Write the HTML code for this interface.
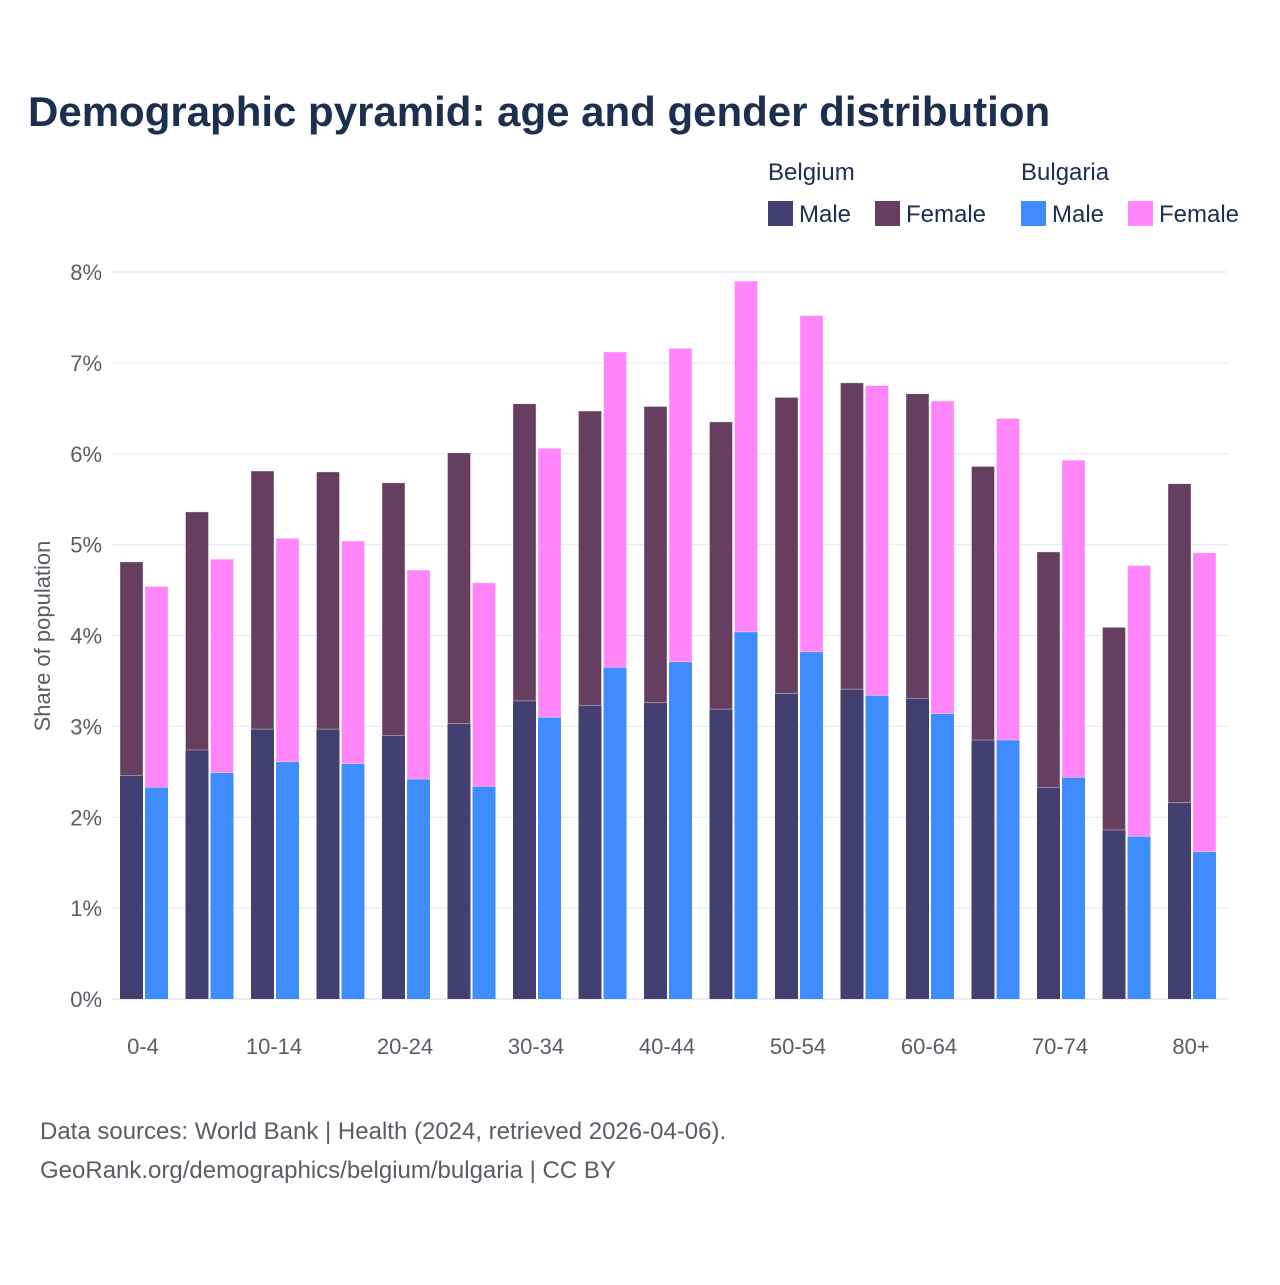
<!DOCTYPE html>
<html><head><meta charset="utf-8"><style>
body{margin:0;background:#fff;font-family:"Liberation Sans",sans-serif;}
</style></head><body>
<svg id="c" width="1280" height="1280" xmlns="http://www.w3.org/2000/svg" style="font-family:'Liberation Sans',sans-serif">
<text x="28" y="126" font-size="42" font-weight="bold" fill="#1b2f4f">Demographic pyramid: age and gender distribution</text>
<g font-size="24" fill="#1b2f4f">
<text x="768" y="180">Belgium</text>
<text x="1021" y="180">Bulgaria</text>
<rect x="768" y="201" width="25" height="25" fill="#433f70"/>
<text x="799" y="222">Male</text>
<rect x="875" y="201" width="25" height="25" fill="#663f60"/>
<text x="906" y="222">Female</text>
<rect x="1021" y="201" width="25" height="25" fill="#3f8cff"/>
<text x="1052" y="222">Male</text>
<rect x="1128" y="201" width="25" height="25" fill="#ff85f9"/>
<text x="1159" y="222">Female</text>
</g>
<g id="grid"></g><g id="bars"></g><g id="xt"></g>
<text transform="translate(50,636) rotate(-90)" text-anchor="middle" font-size="22" fill="#5c5c66">Share of population</text>
<text x="40" y="1139" font-size="24" fill="#5c5c66">Data sources: World Bank | Health (2024, retrieved 2026-04-06).</text>
<text x="40" y="1178" font-size="24" fill="#5c5c66">GeoRank.org/demographics/belgium/bulgaria | CC BY</text>
</svg>
<script>
const categories=["0-4","5-9","10-14","15-19","20-24","25-29","30-34","35-39","40-44","45-49","50-54","55-59","60-64","65-69","70-74","75-79","80+"];
const tickLabels=["0-4","","10-14","","20-24","","30-34","","40-44","","50-54","","60-64","","70-74","","80+"];
const belMale=[2.46,2.74,2.97,2.97,2.90,3.03,3.28,3.23,3.26,3.19,3.36,3.41,3.31,2.85,2.33,1.86,2.16];
const belFemale=[2.35,2.62,2.84,2.83,2.78,2.98,3.27,3.24,3.26,3.16,3.26,3.37,3.35,3.01,2.59,2.23,3.51];
const bulMale=[2.33,2.49,2.61,2.59,2.42,2.34,3.10,3.65,3.71,4.04,3.82,3.34,3.14,2.85,2.44,1.79,1.62];
const bulFemale=[2.21,2.35,2.46,2.45,2.30,2.24,2.96,3.47,3.45,3.86,3.70,3.41,3.44,3.54,3.49,2.98,3.29];
const yTicks=[0,1,2,3,4,5,6,7,8];
const NS="http://www.w3.org/2000/svg";
const x0=112,x1=1228,yb=999,yt=272,ymax=8;
const y=v=>yb-(v/ymax)*(yb-yt);
const step=65.5;
const gx=i=>112+i*step;
function mk(t,a,p){const e=document.createElementNS(NS,t);for(const k in a)e.setAttribute(k,a[k]);p.appendChild(e);return e;}
const grid=document.getElementById('grid');
yTicks.forEach(t=>{
 const l=mk('line',{x1:x0,x2:x1,y1:y(t),y2:y(t),stroke:t===0?'#dcdce4':'#e6e6ef','stroke-width':1},grid);
 
 
 const tx=mk('text',{x:102,y:y(t)+8,'text-anchor':'end','font-size':22,fill:'#5c5c66'},grid);
 tx.textContent=t+'%';
 
 
});
const bars=document.getElementById('bars');
const bw=23;
function stack(xp,m,f,cm,cf,name){
 const r1=mk('rect',{x:xp,y:y(m),width:bw,height:yb-y(m),fill:cm},bars);
 
 
 const r2=mk('rect',{x:xp,y:y(m+f),width:bw,height:y(m)-y(m+f),fill:cf,stroke:'#fff','stroke-width':0.6,'stroke-opacity':0.6},bars);
 
 
}
const xt=document.getElementById('xt');
categories.forEach((c,i)=>{
 const g=gx(i);
 stack(g+8,belMale[i],belFemale[i],'#433f70','#663f60','bar-belgium-'+c);
 stack(g+33,bulMale[i],bulFemale[i],'#3f8cff','#ff85f9','bar-bulgaria-'+c);
 if(tickLabels[i]){
  const t=mk('text',{x:g+31,y:1054,'text-anchor':'middle','font-size':22,fill:'#5c5c66'},xt);
  t.textContent=tickLabels[i];
  
  
 }
});
</script>
</body></html>
